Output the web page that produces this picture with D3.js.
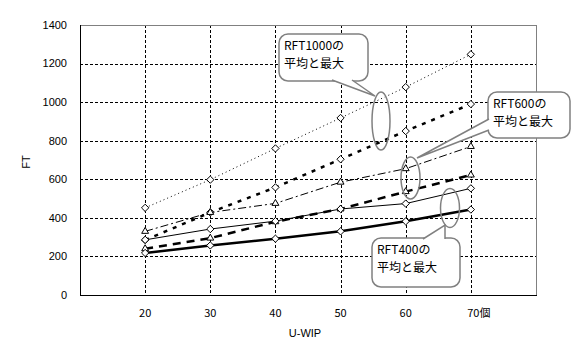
<!DOCTYPE html>
<html><head><meta charset="utf-8">
<script src="https://cdn.jsdelivr.net/npm/d3@7"></script>
<style>body{margin:0;background:#fff}svg{display:block}</style>
</head><body>
<svg id="c" width="576" height="360"></svg>
<script>
const categories = [20, 30, 40, 50, 60, 70];
const xTickLabels = ["20", "30", "40", "50", "60", "70個"];
const yTicks = [0, 200, 400, 600, 800, 1000, 1200, 1400];
const rft1000Max = [452, 598, 760, 918, 1078, 1248];
const rft1000Avg = [285, 428, 558, 704, 850, 990];
const rft600Max = [330, 428, 475, 585, 655, 770];
const rft600Avg = [240, 295, 380, 446, 536, 622];
const rft400Max = [286, 342, 383, 446, 474, 553];
const rft400Avg = [218, 257, 292, 330, 382, 443];
const calloutLabels = [["RFT1000の", "平均と最大"], ["RFT600の", "平均と最大"], ["RFT400の", "平均と最大"]];

const series = [
  {v: rft1000Max, w: 1, dash: "1,3", m: "d"},
  {v: rft1000Avg, w: 2.5, dash: "4,6", m: "d"},
  {v: rft600Max, w: 1, dash: "8,3,2,3", m: "t"},
  {v: rft600Avg, w: 2.5, dash: "8,6", m: "t"},
  {v: rft400Max, w: 1, dash: null, m: "d"},
  {v: rft400Avg, w: 2.5, dash: null, m: "d"}
];

const svg = d3.select("#c");
const L = 80, R = 536, T = 25, B = 295;
const x = d3.scaleLinear().domain([10, 80]).range([L, R]);
const y = d3.scaleLinear().domain([0, 1400]).range([B, T]);
const numFont = "'Liberation Sans', Arial, sans-serif";
const jpFont = "'Noto Sans CJK JP', sans-serif";

// grid
const g = svg.append("g");
g.selectAll(".hg").data(yTicks.filter(d => d > 0 && d < 1400)).join("line")
  .attr("x1", L).attr("x2", R).attr("y1", d => Math.round(y(d)) + 0.5).attr("y2", d => Math.round(y(d)) + 0.5)
  .attr("stroke", "#000").attr("stroke-dasharray", "3,2").attr("stroke-width", 1);
g.selectAll(".vg").data(categories).join("line")
  .attr("x1", d => Math.round(x(d)) + 0.5).attr("x2", d => Math.round(x(d)) + 0.5).attr("y1", T).attr("y2", B)
  .attr("stroke", "#000").attr("stroke-dasharray", "3,2").attr("stroke-width", 1);
// border
g.append("line").attr("x1", L).attr("x2", R + 0.5).attr("y1", T + 0.5).attr("y2", T + 0.5).attr("stroke", "#808080");
g.append("line").attr("x1", R + 0.5).attr("x2", R + 0.5).attr("y1", T).attr("y2", B).attr("stroke", "#808080");
g.append("line").attr("x1", L + 0.5).attr("x2", L + 0.5).attr("y1", T).attr("y2", B + 0.5).attr("stroke", "#000");
g.append("line").attr("x1", L).attr("x2", R + 1).attr("y1", B + 0.5).attr("y2", B + 0.5).attr("stroke", "#000");

// axis labels
svg.append("g").selectAll("text").data(yTicks).join("text")
  .attr("x", 67).attr("y", d => y(d)).attr("dy", "0.35em").attr("text-anchor", "end")
  .attr("font-family", numFont).attr("font-size", 11).text(d => d);
svg.append("g").selectAll("text").data(categories).join("text")
  .attr("x", d => x(d) + (d === 70 ? 8 : 0)).attr("y", 313).attr("dy", "0.35em").attr("text-anchor", "middle")
  .attr("font-family", jpFont).attr("font-size", 11).text((d, i) => xTickLabels[i]);
svg.append("text").attr("x", 305).attr("y", 333).attr("dy", "0.35em").attr("text-anchor", "middle")
  .attr("font-family", numFont).attr("font-size", 11).text("U-WIP");
svg.append("text").attr("transform", "translate(26,162) rotate(-90)").attr("dy", "0.35em").attr("text-anchor", "middle")
  .attr("font-family", numFont).attr("font-size", 11).text("FT");

// lines
const line = d3.line().x((d, i) => x(categories[i])).y(d => y(d));
series.forEach(s => {
  svg.append("path").attr("d", line(s.v)).attr("fill", "none").attr("stroke", "#000")
    .attr("stroke-width", s.w).attr("stroke-dasharray", s.dash);
});
// markers
const sym = {d: d3.symbol().type(d3.symbolDiamond2).size(34), t: d3.symbol().type(d3.symbolTriangle2).size(34)};
series.forEach(s => {
  svg.append("g").selectAll("path").data(s.v).join("path")
    .attr("transform", (d, i) => `translate(${x(categories[i])},${y(d)})`)
    .attr("d", sym[s.m]()).attr("fill", "#fff").attr("stroke", "#000").attr("stroke-width", 1);
});

// callouts
const callouts = [
  {box: [279, 34, 89, 47], tail: [[332, 80], [375, 96], [352, 80]], ell: [381, 121, 9, 29], lab: calloutLabels[0]},
  {box: [488, 92, 82, 46], tail: [[489, 119], [417, 158], [489, 130]], ell: [410.5, 178, 9.5, 21], lab: calloutLabels[1]},
  {box: [372, 238, 88, 49], tail: [[423, 239], [445, 225], [445, 239]], ell: [450, 208, 9.5, 19.5], lab: calloutLabels[2]}
];
callouts.forEach(c => {
  svg.append("ellipse").attr("cx", c.ell[0]).attr("cy", c.ell[1]).attr("rx", c.ell[2]).attr("ry", c.ell[3])
    .attr("fill", "none").attr("stroke", "#808080").attr("stroke-width", 1.5);
  svg.append("rect").attr("x", c.box[0]).attr("y", c.box[1]).attr("width", c.box[2]).attr("height", c.box[3])
    .attr("rx", 9).attr("fill", "#fff").attr("stroke", "#808080").attr("stroke-width", 1.5);
  svg.append("path").attr("d", "M" + c.tail.map(p => p.join(",")).join("L"))
    .attr("fill", "#fff").attr("stroke", "#808080").attr("stroke-width", 1.5);
  c.lab.forEach((t, i) => {
    svg.append("text").attr("x", c.box[0] + 5).attr("y", c.box[1] + 16 + i * 18)
      .attr("font-family", jpFont).attr("font-size", 12).text(t);
  });
});
</script>
</body></html>
